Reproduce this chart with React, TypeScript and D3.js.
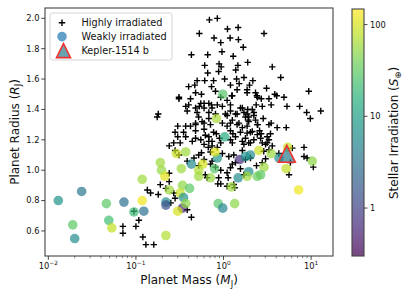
import { useRef, useEffect } from "react";
import * as d3 from "d3";

// [mass (M_J), radius (R_J)]
const highlyIrradiated: [number, number][] = [
  [0.69, 1.99], [0.85, 2.0], [1.11, 1.93], [1.47, 1.94], [0.53, 1.9], [0.78, 1.87], [1.19, 1.87], [1.48, 1.86], [2.9, 1.9], [0.93, 1.84],
  [1.68, 1.81], [0.43, 1.76], [0.66, 1.76], [0.96, 1.78], [1.29, 1.75], [1.89, 1.71], [3.6, 1.68], [0.61, 1.69], [0.89, 1.7], [0.94, 1.68],
  [1.46, 1.69], [0.88, 1.65], [0.66, 1.64], [1.38, 1.66], [0.5, 1.59], [0.61, 1.59], [0.77, 1.59], [1.03, 1.6], [1.41, 1.6], [1.71, 1.61],
  [2.16, 1.59], [4.5, 1.61], [0.4, 1.55], [0.47, 1.56], [0.73, 1.55], [1.2, 1.56], [1.51, 1.57], [1.98, 1.56], [0.48, 1.51], [0.56, 1.5],
  [0.81, 1.52], [1.43, 1.53], [1.86, 1.53], [2.32, 1.51], [3.1, 1.54], [9.4, 1.52], [0.31, 1.47], [0.42, 1.47], [1.24, 1.49], [2.4, 1.49],
  [3.85, 1.5], [2.7, 1.47], [3.3, 1.47], [4.9, 1.48], [0.4, 1.43], [0.53, 1.42], [0.6, 1.44], [0.73, 1.43], [0.97, 1.42], [1.2, 1.43],
  [1.64, 1.41], [1.89, 1.4], [2.36, 1.43], [2.77, 1.42], [3.5, 1.43], [5.3, 1.42], [7.4, 1.42], [8.9, 1.38], [12.9, 1.39],
  [0.18, 1.37], [0.175, 1.35],
  [0.385, 1.39], [0.5, 1.38], [0.68, 1.38], [0.81, 1.37], [1.1, 1.36], [1.43, 1.37], [1.78, 1.35], [2.22, 1.36], [2.84, 1.34], [9.8, 1.34],
  [4.1, 1.28], [5.2, 1.28], [0.3, 1.29], [0.37, 1.29], [0.48, 1.31], [0.57, 1.32], [0.71, 1.3], [1.2, 1.31], [1.5, 1.31], [1.94, 1.32],
  [2.46, 1.3], [0.28, 1.25], [0.35, 1.25], [0.48, 1.26], [0.6, 1.27], [0.77, 1.25], [1.2, 1.26], [1.56, 1.25], [2.03, 1.25], [2.69, 1.24],
  [3.44, 1.24], [0.24, 1.16], [0.32, 1.18], [0.44, 1.19], [0.55, 1.2], [0.68, 1.19], [1.26, 1.18], [1.64, 1.19], [2.03, 1.18], [3.15, 1.18],
  [3.6, 1.16], [8.3, 1.15],
  [4.05, 1.49], [2.13, 1.4], [2.22, 1.38], [1.86, 1.37], [1.94, 1.35], [2.32, 1.33], [2.43, 1.3], [3.3, 1.3], [3.5, 1.31], [2.58, 1.26],
  [1.91, 1.33], [1.86, 1.29], [2.43, 1.48], [1.86, 1.51],
  [0.31, 1.48], [0.37, 1.42], [0.48, 1.41], [0.55, 1.44], [0.6, 1.41], [0.68, 1.44], [0.74, 1.41], [0.85, 1.43], [1.05, 1.37], [1.2, 1.39],
  [1.37, 1.37], [1.56, 1.41], [1.71, 1.38], [0.52, 1.35], [0.6, 1.31], [0.68, 1.34], [0.48, 1.3], [0.42, 1.29], [0.97, 1.31], [1.1, 1.29],
  [1.26, 1.33], [1.43, 1.3], [1.64, 1.28], [0.93, 1.48], [1.1, 1.46], [1.26, 1.49],
  [0.48, 1.21], [0.62, 1.23], [0.68, 1.22], [0.74, 1.19], [0.83, 1.24], [0.9, 1.21], [0.6, 1.17], [0.67, 1.15], [0.74, 1.16], [0.85, 1.15],
  [0.93, 1.18], [0.52, 1.1], [0.71, 1.12], [0.97, 1.11], [0.46, 1.08], [1.15, 1.09], [1.31, 1.1], [1.64, 1.13], [1.71, 1.17], [1.78, 1.21],
  [1.2, 1.2], [1.37, 1.22], [1.28, 1.24], [1.26, 1.04], [1.37, 1.05], [1.56, 1.01], [0.81, 1.02], [0.93, 1.0], [0.62, 0.97], [0.65, 0.95],
  [1.13, 0.95], [0.3, 1.22], [0.37, 1.22], [0.27, 1.18], [0.22, 0.88], [0.24, 0.925], [0.28, 0.815],
  [0.24, 0.98], [0.135, 0.87], [0.147, 0.85], [0.18, 0.84], [0.19, 0.905], [0.27, 0.85], [0.25, 0.785], [0.108, 0.67], [0.1, 0.63], [0.12, 0.56],
  [0.13, 0.51], [0.16, 0.51], [0.385, 0.74], [0.43, 0.69], [0.28, 1.13], [0.31, 1.1], [0.385, 1.06], [0.56, 1.115], [0.6, 1.07], [0.52, 1.03],
  [1.2, 1.016], [1.1, 0.983], [0.88, 0.95], [0.86, 0.91], [0.93, 0.91], [1.1, 0.894], [1.31, 0.906], [1.34, 0.884], [0.71, 1.04], [0.74, 1.06],
  [1.78, 1.07], [2.03, 1.08], [2.38, 1.03], [2.77, 1.05], [3.02, 1.075], [5.6, 0.97], [8.3, 1.09], [9.0, 1.08], [10.6, 1.02], [1.71, 0.97],
  [1.86, 1.244], [2.13, 1.255], [2.43, 1.234], [3.15, 1.22], [3.3, 1.2], [2.65, 1.21], [2.77, 1.18], [1.94, 1.18], [2.22, 1.2], [3.02, 1.17],
  [2.88, 1.125], [3.3, 1.135], [4.28, 1.11], [6.1, 1.145], [5.8, 1.05],
  [0.095, 0.73], [0.071, 0.63], [0.071, 0.585],
];

// [mass (M_J), radius (R_J), stellar irradiation (S_earth)]
const weaklyIrradiated: [number, number, number][] = [
  [0.013, 0.8, 7], [0.024, 0.86, 3.5], [0.046, 0.78, 30], [0.073, 0.79, 2.8], [0.019, 0.64, 30], [0.02, 0.55, 6],
  [0.049, 0.67, 22], [0.053, 0.62, 85], [0.095, 0.725, 20], [0.123, 0.73, 3], [0.118, 0.8, 130], [0.118, 0.94, 60],
  [0.29, 1.11, 90], [0.37, 1.12, 60], [0.43, 1.04, 6], [0.58, 1.04, 100], [0.52, 1.0, 70], [0.33, 1.01, 60],
  [0.196, 1.0, 55], [0.214, 0.96, 110], [0.52, 0.96, 60], [0.71, 0.95, 55], [0.79, 1.01, 28], [0.85, 1.08, 8],
  [0.8, 1.12, 110], [1.03, 1.22, 13], [1.53, 1.07, 0.7], [1.47, 0.95, 6], [1.23, 0.89, 60], [0.34, 0.9, 50],
  [0.41, 0.88, 30], [0.24, 0.87, 60], [0.32, 0.85, 85], [0.35, 0.82, 7], [0.22, 0.79, 6], [0.22, 0.77, 1.4],
  [0.34, 0.75, 0.6], [0.3, 0.73, 100], [0.37, 0.78, 50], [0.87, 0.78, 28], [0.98, 0.75, 5], [1.34, 0.78, 50],
  [0.22, 0.57, 70], [2.03, 1.1, 6], [2.53, 1.13, 90], [3.5, 1.11, 60], [4.3, 1.08, 6], [5.4, 1.15, 90],
  [5.2, 1.01, 80], [10.3, 1.06, 50], [7.2, 0.87, 130], [2.9, 1.02, 60], [2.65, 0.97, 30], [2.43, 0.96, 35],
  [1.94, 0.99, 6], [1.86, 0.96, 60], [1.78, 1.09, 7], [0.98, 1.5, 28], [0.83, 1.34, 65], [0.19, 1.05, 60],
];

const kepler1514b = { mass: 5.28, radius: 1.108, flux: 4 };

const massTicks = [0.01, 0.1, 1, 10];
const massTickExponents = ["\u22122", "\u22121", "0", "1"];
const radiusTicks = [0.6, 0.8, 1.0, 1.2, 1.4, 1.6, 1.8, 2.0];
const fluxTicks = [1, 10, 100];
const legendLabels = ["Highly irradiated", "Weakly irradiated", "Kepler-1514 b"];

const FONT = "DejaVu Sans, sans-serif";

function App() {
  const svgRef = useRef<SVGSVGElement>(null);

  useEffect(() => {
    const svg = d3.select(svgRef.current);
    svg.selectAll("*").remove();

    const left = 45, right = 333, top = 8, bottom = 256;
    const x = d3.scaleLog().domain([10 ** -2.038, 10 ** 1.25]).range([left, right]);
    const y = d3.scaleLinear().domain([0.435, 2.068]).range([bottom, top]);
    const color = d3.scaleSequentialLog(d3.interpolateViridis).domain([0.3, 148]);

    svg.style("font-family", FONT);

    // highly irradiated: black plus markers
    const arm = 3.2;
    svg.append("g")
      .selectAll("path")
      .data(highlyIrradiated)
      .join("path")
      .attr("d", (d) => {
        const cx = x(d[0]), cy = y(d[1]);
        return `M${cx - arm},${cy}H${cx + arm}M${cx},${cy - arm}V${cy + arm}`;
      })
      .attr("stroke", "#000")
      .attr("stroke-width", 1.4);

    // weakly irradiated: circles coloured by irradiation
    svg.append("g")
      .selectAll("circle")
      .data(weaklyIrradiated)
      .join("circle")
      .attr("cx", (d) => x(d[0]))
      .attr("cy", (d) => y(d[1]))
      .attr("r", 4.8)
      .attr("fill", (d) => color(d[2]))
      .attr("fill-opacity", 0.7);

    const tri = (h: number) => `M0,${-h}L${h},${h}L${-h},${h}Z`;

    svg.append("path")
      .attr("d", tri(8.5))
      .attr("transform", `translate(${x(kepler1514b.mass)},${y(kepler1514b.radius)})`)
      .attr("fill", color(kepler1514b.flux))
      .attr("fill-opacity", 0.7)
      .attr("stroke", "#ee3333")
      .attr("stroke-width", 1.6);

    // axes frame
    svg.append("rect")
      .attr("x", left).attr("y", top)
      .attr("width", right - left).attr("height", bottom - top)
      .attr("fill", "none").attr("stroke", "#444").attr("stroke-width", 1.1);

    // x ticks (log)
    const minor: number[] = [];
    for (let e = -3; e <= 1; e++) {
      for (let k = 2; k <= 9; k++) {
        const v = k * 10 ** e;
        if (v > x.domain()[0] && v < x.domain()[1]) minor.push(v);
      }
    }
    svg.append("g").selectAll("line").data(minor).join("line")
      .attr("x1", (d) => x(d)).attr("x2", (d) => x(d))
      .attr("y1", bottom).attr("y2", bottom + 2.2)
      .attr("stroke", "#333").attr("stroke-width", 0.6);

    const xt = svg.append("g").selectAll("g").data(massTicks).join("g")
      .attr("transform", (d) => `translate(${x(d)},${bottom})`);
    xt.append("line").attr("y2", 3.8).attr("stroke", "#333").attr("stroke-width", 0.9);
    const xtText = xt.append("text")
      .attr("y", 13)
      .attr("text-anchor", "middle")
      .attr("font-size", 8.3)
      .attr("fill", "#111");
    xtText.append("tspan").text("10");
    xtText.append("tspan")
      .attr("dy", -3.8)
      .attr("font-size", 5.9)
      .text((_, i) => massTickExponents[i]);

    // y ticks
    const yt = svg.append("g").selectAll("g").data(radiusTicks).join("g")
      .attr("transform", (d) => `translate(${left},${y(d)})`);
    yt.append("line").attr("x2", -3.8).attr("stroke", "#333").attr("stroke-width", 0.9);
    yt.append("text")
      .attr("x", -5.5)
      .attr("dy", "0.35em")
      .attr("text-anchor", "end")
      .attr("font-size", 8.3)
      .attr("fill", "#111")
      .text((d) => d3.format(".1f")(d));

    // axis labels
    const xl = svg.append("text")
      .attr("x", (left + right) / 2).attr("y", 284)
      .attr("text-anchor", "middle").attr("font-size", 12).attr("fill", "#111");
    xl.append("tspan").text("Planet Mass (");
    xl.append("tspan").attr("font-style", "italic").text("M");
    xl.append("tspan").attr("font-size", 8.4).attr("dy", 2.5).text("J");
    xl.append("tspan").attr("dy", -2.5).text(")");

    const yl = svg.append("text")
      .attr("transform", `translate(18.5,${(top + bottom) / 2}) rotate(-90)`)
      .attr("text-anchor", "middle").attr("font-size", 12).attr("fill", "#111");
    yl.append("tspan").text("Planet Radius (");
    yl.append("tspan").attr("font-style", "italic").text("R");
    yl.append("tspan").attr("font-size", 8.4).attr("dy", 2.5).text("J");
    yl.append("tspan").attr("dy", -2.5).text(")");

    // legend
    const lg = svg.append("g");
    lg.append("rect")
      .attr("x", 50).attr("y", 13).attr("width", 122).attr("height", 47)
      .attr("rx", 2.5)
      .attr("fill", "#fff").attr("fill-opacity", 0.8)
      .attr("stroke", "#d0d0d0").attr("stroke-width", 0.9);
    lg.append("path")
      .attr("d", `M${62 - arm},22.7H${62 + arm}M62,${22.7 - arm}V${22.7 + arm}`)
      .attr("stroke", "#000").attr("stroke-width", 1.4);
    lg.append("circle")
      .attr("cx", 62).attr("cy", 36.6).attr("r", 4.8)
      .attr("fill", "#1f77b4").attr("fill-opacity", 0.7);
    lg.append("path")
      .attr("d", tri(7))
      .attr("transform", "translate(63.5,50.6)")
      .attr("fill", color(kepler1514b.flux))
      .attr("fill-opacity", 0.7)
      .attr("stroke", "#ee3333")
      .attr("stroke-width", 1.6);
    lg.selectAll("text").data(legendLabels).join("text")
      .attr("x", 81.5)
      .attr("y", (_, i) => 26.2 + i * 13.9)
      .attr("font-size", 9.7)
      .attr("fill", "#111")
      .text((d) => d);

    // colourbar
    const cbX = 352, cbW = 12;
    const cy = d3.scaleLog().domain(color.domain()).range([bottom, top + 1]);
    const grad = svg.append("defs").append("linearGradient")
      .attr("id", "viridisBar")
      .attr("x1", 0).attr("y1", 1).attr("x2", 0).attr("y2", 0);
    d3.range(0, 1.0001, 0.05).forEach((t) => {
      grad.append("stop")
        .attr("offset", t)
        .attr("stop-color", d3.interpolateViridis(t));
    });
    svg.append("rect")
      .attr("x", cbX).attr("y", top + 1)
      .attr("width", cbW).attr("height", bottom - top - 1)
      .attr("fill", "url(#viridisBar)").attr("fill-opacity", 0.72)
      .attr("stroke", "#444").attr("stroke-width", 1.1);

    const ct = svg.append("g").selectAll("g").data(fluxTicks).join("g")
      .attr("transform", (d) => `translate(${cbX + cbW},${cy(d)})`);
    ct.append("line").attr("x2", 3.5).attr("stroke", "#333").attr("stroke-width", 0.9);
    ct.append("text")
      .attr("x", 6)
      .attr("dy", "0.35em")
      .attr("font-size", 8.3)
      .attr("fill", "#111")
      .text((d) => String(d));

    const cl = svg.append("text")
      .attr("transform", `translate(398,${(top + bottom) / 2 + 1}) rotate(-90)`)
      .attr("text-anchor", "middle").attr("font-size", 12).attr("fill", "#111");
    cl.append("tspan").text("Stellar Irradiation (");
    cl.append("tspan").attr("font-style", "italic").text("S");
    cl.append("tspan").attr("font-size", 8.4).attr("dy", 2.5).text("\u2295");
    cl.append("tspan").attr("dy", -2.5).text(")");
  }, []);

  return (
    <svg
      ref={svgRef}
      width={415}
      height={297}
      style={{ position: "absolute", left: 0, top: 0, background: "#fff" }}
    ></svg>
  );
}

export default App;
